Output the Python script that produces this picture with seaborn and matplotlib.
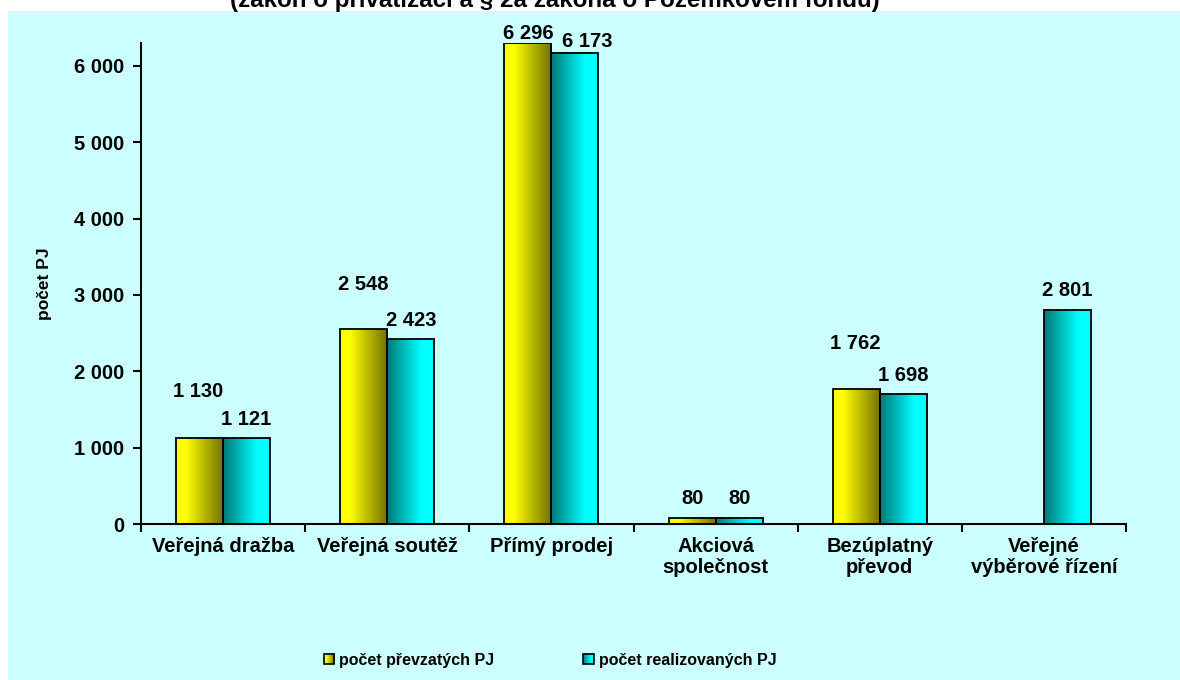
import numpy as np
import pandas as pd
import matplotlib
matplotlib.use("Agg")
import matplotlib.pyplot as plt
import seaborn as sns
from matplotlib.colors import LinearSegmentedColormap
from matplotlib.patches import Rectangle
from matplotlib.legend_handler import HandlerBase
from matplotlib.image import BboxImage
from matplotlib.transforms import Bbox, TransformedBbox

# ---------------- data ----------------
categories = ["Veřejná dražba", "Veřejná soutěž", "Přímý prodej",
              "Akciová\nspolečnost", "Bezúplatný\npřevod", "Veřejné\nvýběrové řízení"]
series = ["počet převzatých PJ", "počet realizovaných PJ"]
prevzate = [1130, 2548, 6296, 80, 1762, None]
realizovane = [1121, 2423, 6173, 80, 1698, 2801]
y_ticks = [0, 1000, 2000, 3000, 4000, 5000, 6000]
title_text = "(zákon o privatizaci a § 2a zákona o Pozemkovém fondu)"
y_label = "počet PJ"

# label offsets from bar tops (pixels)
off_prevzate = [46, 45, 10, 19, 46, None]
off_realiz = [19, 19, 11, 19, 19, 20]
offx_prevzate = [-1, 0, 0, 0, -1, None]
offx_realiz = [0, 0, 12, 0, 0, 0]

rows = []
for c, v in zip(categories, prevzate):
    if v is not None:
        rows.append((c, series[0], v))
for c, v in zip(categories, realizovane):
    if v is not None:
        rows.append((c, series[1], v))
df = pd.DataFrame(rows, columns=["kategorie", "serie", "hodnota"])

# ---------------- style ----------------
sns.set_theme(style="white")
plt.rcParams["font.family"] = ["Liberation Sans", "DejaVu Sans"]
plt.rcParams["font.weight"] = "bold"
for k in ["text.color", "axes.labelcolor", "xtick.color", "ytick.color"]:
    plt.rcParams[k] = "black"

BG = "#CCFFFF"
fig = plt.figure(figsize=(11.8, 6.8), dpi=100)
fig.patch.set_facecolor("white")
fig.patches.append(Rectangle((8 / 1180, 0), 1 - 8 / 1180, (680 - 11) / 680,
                             transform=fig.transFigure, facecolor=BG,
                             edgecolor="none", zorder=-10))

ax = fig.add_axes([141 / 1180, (680 - 524) / 680, 985 / 1180, (524 - 43) / 680])
ax.set_facecolor("none")

cmap_y = LinearSegmentedColormap.from_list("yel", [(0, "#FFFF00"), (0.2, "#FFFF00"), (1, "#707000")])
cmap_c = LinearSegmentedColormap.from_list("cya", [(0, "#007878"), (0.72, "#00FFFF"), (1, "#00FFFF")])

sns.barplot(data=df, x="kategorie", y="hodnota", hue="serie", order=categories,
            hue_order=series, palette=["#FFFF00", "#00FFFF"], width=0.573,
            edgecolor="black", linewidth=1.3, legend=False, ax=ax, errorbar=None)

grad = np.linspace(0, 1, 128).reshape(1, -1)
offs = [off_prevzate, off_realiz]
offxs = [offx_prevzate, offx_realiz]
cmaps = [cmap_y, cmap_c]
for si, cont in enumerate(ax.containers):
    for bar in cont:
        x, w, h = bar.get_x(), bar.get_width(), bar.get_height()
        if not np.isfinite(h):
            continue
        ax.imshow(grad, extent=[x, x + w, 0, h], aspect="auto", cmap=cmaps[si],
                  interpolation="bicubic", zorder=2)
        bar.set_facecolor("none")
        bar.set_zorder(3)
        ci = int(round(x + w / 2))
        ax.annotate(f"{int(h):,}".replace(",", " "), (x + w / 2, h),
                    xytext=(offxs[si][ci], offs[si][ci]), textcoords="offset pixels",
                    ha="center", va="center", fontsize=14.5, fontweight="bold",
                    color="black", zorder=5, annotation_clip=False)

ax.set_xlim(-0.5, len(categories) - 0.5)
ax.set_ylim(0, 6300)

# axes styling
for s in ["top", "right"]:
    ax.spines[s].set_visible(False)
for s in ["left", "bottom"]:
    ax.spines[s].set_color("black")
    ax.spines[s].set_linewidth(1.5)

ax.set_yticks(y_ticks)
ax.set_yticklabels([f"{t:,}".replace(",", " ") for t in y_ticks], fontsize=14.5, fontweight="bold")
ax.tick_params(axis="y", direction="out", length=6, width=1.5, color="black",
               labelcolor="black", pad=6, left=True)

ax.set_xticks(np.arange(-0.5, len(categories) + 0.5, 1.0))
ax.set_xticklabels([])
ax.set_xticks(np.arange(len(categories)), minor=True)
ax.set_xticklabels(categories, minor=True, fontsize=14.5, fontweight="bold",
                   linespacing=1.15, color="black")
ax.tick_params(axis="x", which="major", direction="out", length=6, width=1.5,
               color="black", bottom=True)
ax.tick_params(axis="x", which="minor", length=0, pad=9, labelcolor="black")
ax.set_xlabel("")
ax.set_ylabel(y_label, fontsize=12.5, fontweight="bold", color="black")
ax.yaxis.set_label_coords(-0.090, 0.5)

# title (partly outside the canvas, as in the reference)
fig.text(555 / 1180, 1 - 7.5 / 680, title_text, ha="center", va="baseline",
         fontsize=17.4, fontweight="bold", color="black")


class GradHandler(HandlerBase):
    def __init__(self, cmap):
        super().__init__()
        self.cmap = cmap

    def create_artists(self, legend, orig_handle, xdescent, ydescent, width,
                       height, fontsize, trans):
        s = min(width, height)
        x0 = -xdescent + (width - s) / 2
        y0 = -ydescent + (height - s) / 2
        tbb = TransformedBbox(Bbox.from_bounds(x0, y0, s, s), trans)
        img = BboxImage(tbb, cmap=self.cmap, interpolation="bicubic")
        img.set_data(np.linspace(0, 1, 64).reshape(1, -1))
        rect = Rectangle((x0, y0), s, s, facecolor="none", edgecolor="black",
                         lw=1.2, transform=trans)
        return [img, rect]


h1 = Rectangle((0, 0), 1, 1)
h2 = Rectangle((0, 0), 1, 1)
leg = fig.legend([h1, h2], series, loc="center", bbox_to_anchor=(550 / 1180, 20 / 680),
                 ncol=2, frameon=False, handlelength=0.65, handleheight=0.65,
                 handletextpad=0.3, columnspacing=5.6,
                 prop={"size": 11.5, "weight": "bold"},
                 handler_map={h1: GradHandler(cmap_y), h2: GradHandler(cmap_c)})
for t in leg.get_texts():
    t.set_color("black")

fig.savefig("out.png", dpi=100, facecolor=fig.get_facecolor())
